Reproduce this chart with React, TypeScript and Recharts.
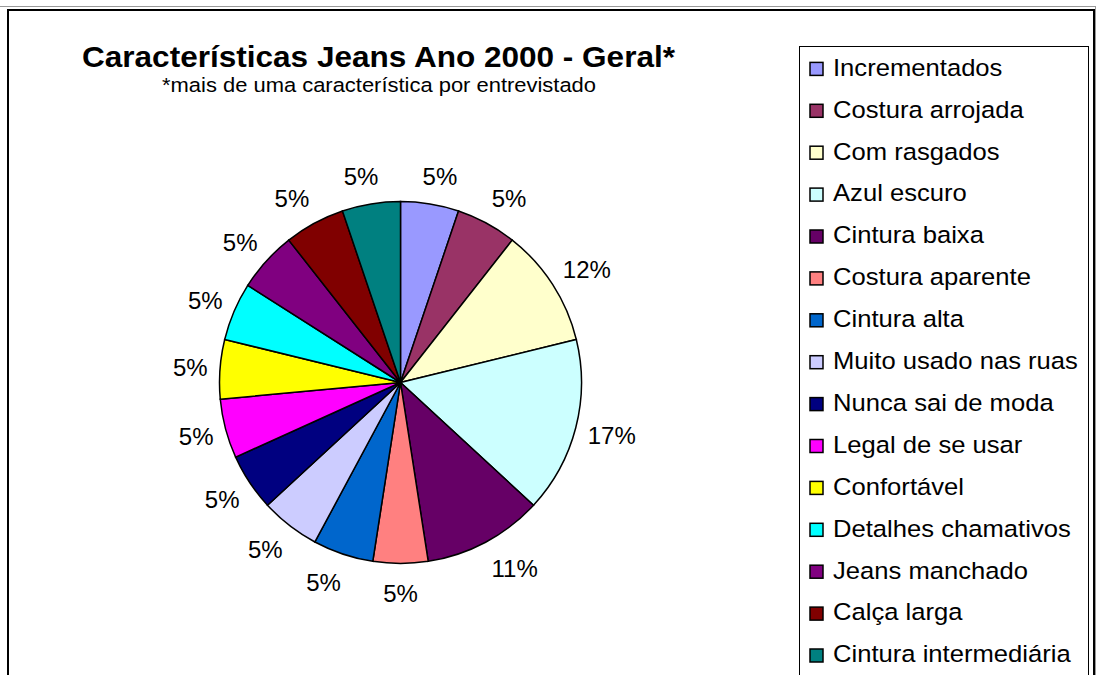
import React from 'react';
import { PieChart, Pie, Cell, Legend } from 'recharts';

const categories = [
  'Incrementados',
  'Costura arrojada',
  'Com rasgados',
  'Azul escuro',
  'Cintura baixa',
  'Costura aparente',
  'Cintura alta',
  'Muito usado nas ruas',
  'Nunca sai de moda',
  'Legal de se usar',
  'Confortável',
  'Detalhes chamativos',
  'Jeans manchado',
  'Calça larga',
  'Cintura intermediária',
];

// slice sizes
const shares = [5.2, 5.4, 10.6, 15.7, 10.7, 4.9, 5.4, 5.3, 5.1, 5.3, 5.3, 5.2, 5.4, 5.4, 5.2];

// label texts as printed on the chart
const percentLabels = ['5%', '5%', '12%', '17%', '11%', '5%', '5%', '5%', '5%', '5%', '5%', '5%', '5%', '5%', '5%'];

const colors = [
  '#9999FF', '#993366', '#FFFFCC', '#CCFFFF', '#660066',
  '#FF8080', '#0066CC', '#CCCCFF', '#000080', '#FF00FF',
  '#FFFF00', '#00FFFF', '#800080', '#800000', '#008080',
];

const data = categories.map((name, i) => ({ name, value: shares[i] }));

const FONT = '"Liberation Sans", Arial, sans-serif';
const RAD = Math.PI / 180;

// excel-ish outside labels: box pushed out from a ring just past the rim
const renderLabel = (props: any) => {
  const { cx, cy, midAngle, index } = props;
  const text = percentLabels[index];
  const dx = Math.cos(-midAngle * RAD);
  const dy = Math.sin(-midAngle * RAD);
  const r0 = 195;
  const halfW = (text.length * 13.3 + 5) / 2;
  const halfH = dy > 0 ? 16 : 14;
  const x = cx + r0 * dx + halfW * Math.sign(dx) * Math.min(1, Math.abs(dx) * 3);
  const y = cy + r0 * dy + halfH * dy;
  return (
    <text x={x} y={y + 8.6} textAnchor="middle" fontSize={24} fontFamily={FONT} fill="#000">
      {text}
    </text>
  );
};

const LegendBox = () => (
  <svg width={290} height={640} style={{ display: 'block' }}>
    <rect x={0.5} y={0.5} width={289} height={700} fill="#fff" stroke="#000" strokeWidth={1} />
    {categories.map((c, i) => {
      const base = 29.7 + i * 41.9;
      return (
        <g key={c}>
          <rect x={11} y={base - 13.3} width={13} height={13} fill={colors[i]} stroke="#000" strokeWidth={1.5} />
          <text
            transform={`translate(34 ${base}) scale(1.09 1)`}
            fontSize={23.5}
            fontFamily={FONT}
            fill="#000"
          >
            {c}
          </text>
        </g>
      );
    })}
  </svg>
);

export default function App() {
  return (
    <div style={{ position: 'absolute', left: 0, top: 0, width: 1096, height: 675, overflow: 'hidden', background: '#fff' }}>
      <div style={{ position: 'absolute', left: 0, top: 6, width: 1095, height: 700, borderTop: '1px solid #999', borderRight: '1px solid #999' }} />
      <div style={{ position: 'absolute', left: 7, top: 9, width: 1084, height: 700, border: '2px solid #000', borderBottom: 'none' }} />
      <div style={{ position: 'absolute', left: 0, top: 0 }}>
        <PieChart width={1096} height={675} margin={{ top: 0, right: 0, bottom: 0, left: 0 }}>
          <Pie
            data={data}
            dataKey="value"
            nameKey="name"
            cx={400.5}
            cy={382.5}
            outerRadius={181}
            startAngle={90}
            endAngle={-270}
            stroke="#000"
            strokeWidth={1.5}
            label={renderLabel}
            labelLine={false}
            isAnimationActive={false}
          >
            {data.map((d, i) => (
              <Cell key={d.name} fill={colors[i]} />
            ))}
          </Pie>
          <Legend
            layout="vertical"
            align="right"
            verticalAlign="top"
            content={() => <LegendBox />}
            wrapperStyle={{ position: 'absolute', left: 799, top: 46, width: 290, height: 640 }}
          />
        </PieChart>
      </div>
      <svg width={1096} height={675} style={{ position: 'absolute', left: 0, top: 0, pointerEvents: 'none' }}>
        <text x={82} y={67} textLength={593} lengthAdjust="spacingAndGlyphs" fontSize={30} fontWeight="bold" fontFamily={FONT} fill="#000">
          Características Jeans Ano 2000 - Geral*
        </text>
        <text x={162} y={92} textLength={434} lengthAdjust="spacingAndGlyphs" fontSize={20.5} fontFamily={FONT} fill="#000">
          *mais de uma característica por entrevistado
        </text>
      </svg>
    </div>
  );
}
